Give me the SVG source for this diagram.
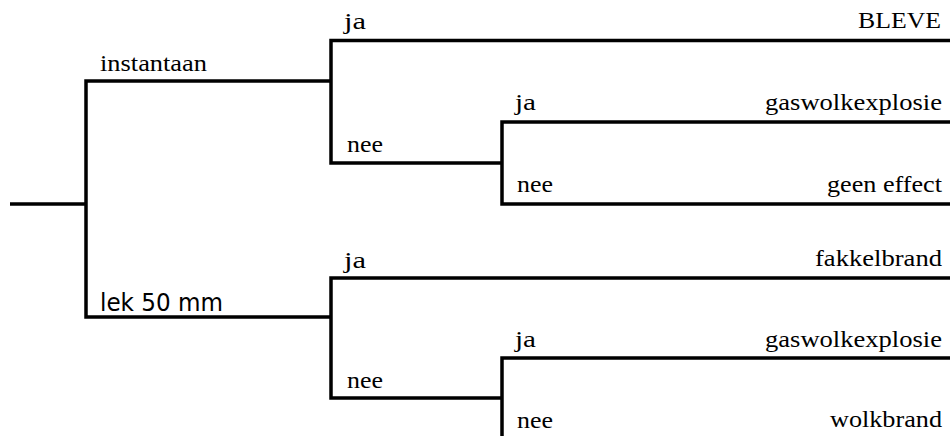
<svg xmlns="http://www.w3.org/2000/svg" width="950" height="436" viewBox="0 0 950 436">
<style>
.c{fill:none;stroke:#000;stroke-width:3.5;stroke-linejoin:miter}
.t{font-family:'Times New Roman','Liberation Serif',Tinos,'Nimbus Roman',Times,serif;font-size:23px;fill:#000}
</style>
<rect width="950" height="436" fill="#fff"/>
<g id="connectors">
<path class="c" d="M10,204 H86"/>
<path class="c" d="M86,204 V81 H331"/>
<path class="c" d="M86,204 V317 H331"/>
<path class="c" d="M331,81 V40.5 H950"/>
<path class="c" d="M331,81 V163 H502"/>
<path class="c" d="M502,163 V122 H950"/>
<path class="c" d="M502,163 V204 H950"/>
<path class="c" d="M331,317 V278 H950"/>
<path class="c" d="M331,317 V398 H502"/>
<path class="c" d="M502,398 V358 H950"/>
<path class="c" d="M502,398 V440 H950"/>
</g>
<g id="instantaan"><text class="t" x="100" y="71" textLength="107" lengthAdjust="spacingAndGlyphs">instantaan</text></g>
<g id="ja1"><text class="t" x="344" y="29" textLength="22" lengthAdjust="spacingAndGlyphs">ja</text></g>
<g id="nee1"><text class="t" x="347" y="152" textLength="36" lengthAdjust="spacingAndGlyphs">nee</text></g>
<g id="ja2"><text class="t" x="515" y="110" textLength="21" lengthAdjust="spacingAndGlyphs">ja</text></g>
<g id="nee2"><text class="t" x="517" y="192" textLength="36" lengthAdjust="spacingAndGlyphs">nee</text></g>
<g id="ja3"><text class="t" x="344" y="268" textLength="22" lengthAdjust="spacingAndGlyphs">ja</text></g>
<g id="nee3"><text class="t" x="347" y="388" textLength="36" lengthAdjust="spacingAndGlyphs">nee</text></g>
<g id="ja4"><text class="t" x="515" y="347" textLength="21" lengthAdjust="spacingAndGlyphs">ja</text></g>
<g id="nee4"><text class="t" x="517" y="428" textLength="36" lengthAdjust="spacingAndGlyphs">nee</text></g>
<g id="bleve"><text class="t" x="858" y="28" textLength="83" lengthAdjust="spacingAndGlyphs">BLEVE</text></g>
<g id="gwe1"><text class="t" x="765" y="110" textLength="177" lengthAdjust="spacingAndGlyphs">gaswolkexplosie</text></g>
<g id="geen"><text class="t" x="827" y="192" textLength="115" lengthAdjust="spacingAndGlyphs">geen effect</text></g>
<g id="fakkel"><text class="t" x="815" y="266" textLength="127" lengthAdjust="spacingAndGlyphs">fakkelbrand</text></g>
<g id="gwe2"><text class="t" x="765" y="347" textLength="177" lengthAdjust="spacingAndGlyphs">gaswolkexplosie</text></g>
<g id="wolk"><text class="t" x="830" y="427" textLength="112" lengthAdjust="spacingAndGlyphs">wolkbrand</text></g>
<g id="lek50"><text x="100" y="311" font-family="DejaVu Sans Condensed, DejaVu Sans, sans-serif" font-size="25" fill="#000" textLength="123" lengthAdjust="spacingAndGlyphs">lek 50 mm</text></g>
</svg>
